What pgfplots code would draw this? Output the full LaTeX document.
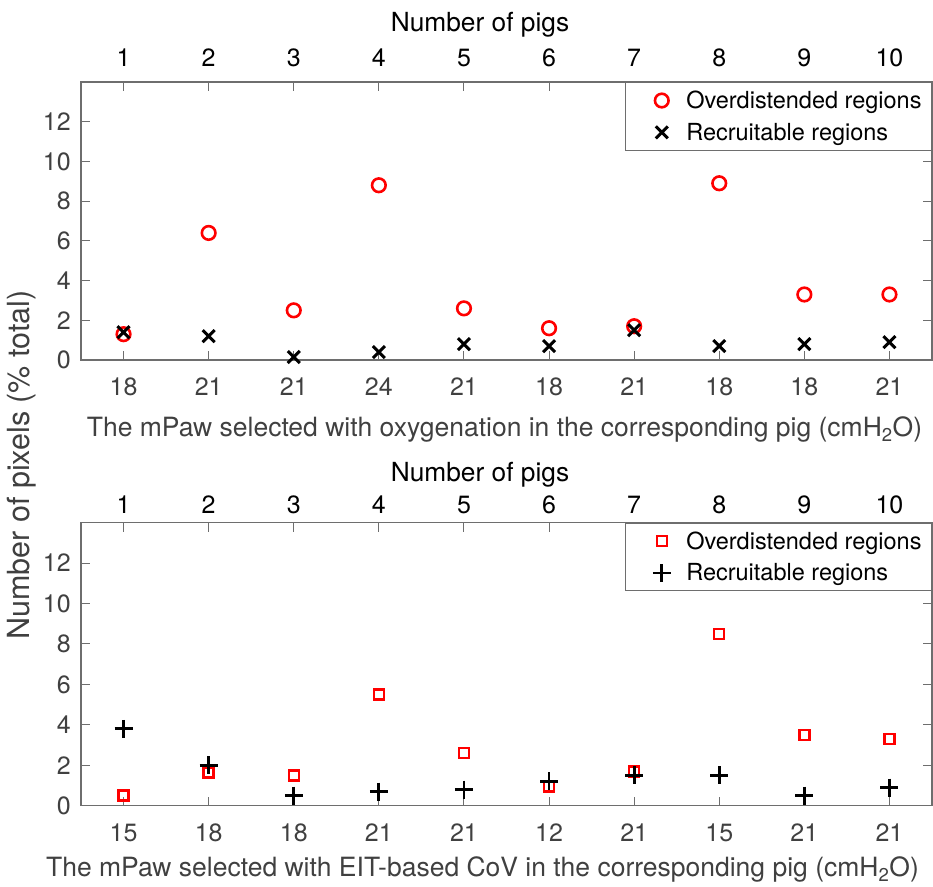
\documentclass[border=0pt]{standalone}
\usepackage{pgfplots}
\pgfplotsset{compat=1.18}
\usepackage{fontspec}
\setmainfont{TeX Gyre Heros}
\definecolor{txtgray}{RGB}{64,64,64}
\definecolor{axgray}{RGB}{110,110,110}
\definecolor{mred}{RGB}{255,0,0}

\pgfplotstableread{
x od rc
1 1.3 1.4
2 6.4 1.2
3 2.5 0.15
4 8.8 0.4
5 2.6 0.8
6 1.6 0.7
7 1.7 1.5
8 8.9 0.7
9 3.3 0.8
10 3.3 0.9
}\oxy
\pgfplotstableread{
x od rc
1 0.5 3.8
2 1.65 2.0
3 1.5 0.5
4 5.5 0.7
5 2.6 0.8
6 0.95 1.2
7 1.7 1.5
8 8.5 1.5
9 3.5 0.5
10 3.3 0.9
}\eit

\pgfplotsset{
  mainax/.style={
    scale only axis, width=851pt,
    xmin=0.5, xmax=10.5, ymin=0, ymax=14,
    xtick={1,...,10}, ytick={0,2,...,12},
    /pgf/number format/assume math mode=true,
    tick pos=both, tick align=inside,
    xticklabel pos=lower,
    major tick length=9pt,
    axis line style={draw=axgray, line width=1.1pt},
    every tick/.style={draw=axgray, line width=1pt},
    tick label style={font=\fontsize{25}{29}\selectfont, text=txtgray},
    xticklabel style={anchor=base, yshift=-36pt},
    yticklabel style={anchor=east, inner sep=0pt, xshift=-10pt},
    xlabel style={font=\fontsize{26.5}{30}\selectfont, text=txtgray, anchor=base, at={(axis description cs:0.5,0)}},
    legend cell align=left,
    legend image code/.code={\path (-27pt,0pt) (21pt,0pt); \draw[##1] plot coordinates {(0pt,0pt)};},
    legend style={at={(1,1)}, anchor=north east, draw=axgray, line width=1pt,
      font=\fontsize{23.5}{28}\selectfont, inner xsep=8pt, inner ysep=6.5pt,
      row sep=9pt, /tikz/every odd column/.style={column sep=0pt}},
  },
  topax/.style={
    scale only axis, width=851pt,
    xmin=0.5, xmax=10.5, ymin=0, ymax=14,
    axis x line*=top, axis y line=none,
    xtick={1,...,10},
    /pgf/number format/assume math mode=true,
    major tick length=0pt,
    axis line style={draw=none},
    xticklabel style={font=\fontsize{25}{29}\selectfont, text=black, anchor=base},
  },
}

\begin{document}
\begin{tikzpicture}
\path[use as bounding box] (-81pt,-80.3pt) rectangle (852pt,805.7pt);

% ---------- top panel ----------
\begin{axis}[mainax, at={(0pt,445.7pt)}, anchor=south west, height=278pt,
  xticklabels={18,21,21,24,21,18,21,18,18,21},
  xlabel={The mPaw selected with oxygenation in the corresponding pig (cmH\textsubscript{2}O)},
  xlabel style={yshift=-76.7pt, xshift=-2pt}]
\addplot[only marks, mark=o, mark size=6.8pt, draw=mred, line width=2.6pt] table[x=x,y=od] {\oxy};
\addlegendentry{Overdistended regions}
\addplot[only marks, mark=x, mark size=8.5pt, draw=black, line width=3pt] table[x=x,y=rc] {\oxy};
\addlegendentry{Recruitable regions}
\end{axis}
\begin{axis}[topax, at={(0pt,445.7pt)}, anchor=south west, height=278pt,
  xticklabel style={yshift=15pt}]
\end{axis}
\node[font=\fontsize{26.3}{30}\selectfont, anchor=base] at (399pt,773.7pt) {Number of pigs};

% ---------- bottom panel ----------
\begin{axis}[mainax, at={(0pt,0pt)}, anchor=south west, height=283pt,
  xticklabels={15,18,18,21,21,12,21,15,21,21},
  xlabel={The mPaw selected with EIT-based CoV in the corresponding pig (cmH\textsubscript{2}O)},
  xlabel style={yshift=-71pt, xshift=-24pt}]
\addplot[only marks, mark=square, mark size=5pt, draw=mred, line width=2.4pt] table[x=x,y=od] {\eit};
\addlegendentry{Overdistended regions}
\addplot[only marks, mark=+, mark size=9pt, draw=black, line width=2.8pt] table[x=x,y=rc] {\eit};
\addlegendentry{Recruitable regions}
\end{axis}
\begin{axis}[topax, at={(0pt,0pt)}, anchor=south west, height=283pt,
  xticklabel style={yshift=9pt}]
\end{axis}
\node[font=\fontsize{26.3}{30}\selectfont, anchor=base] at (399pt,324pt) {Number of pigs};

\node[rotate=90, font=\fontsize{30.5}{34}\selectfont, text=txtgray] at (-59pt,340.7pt) {Number of pixels (\% total)};
\end{tikzpicture}
\end{document}
